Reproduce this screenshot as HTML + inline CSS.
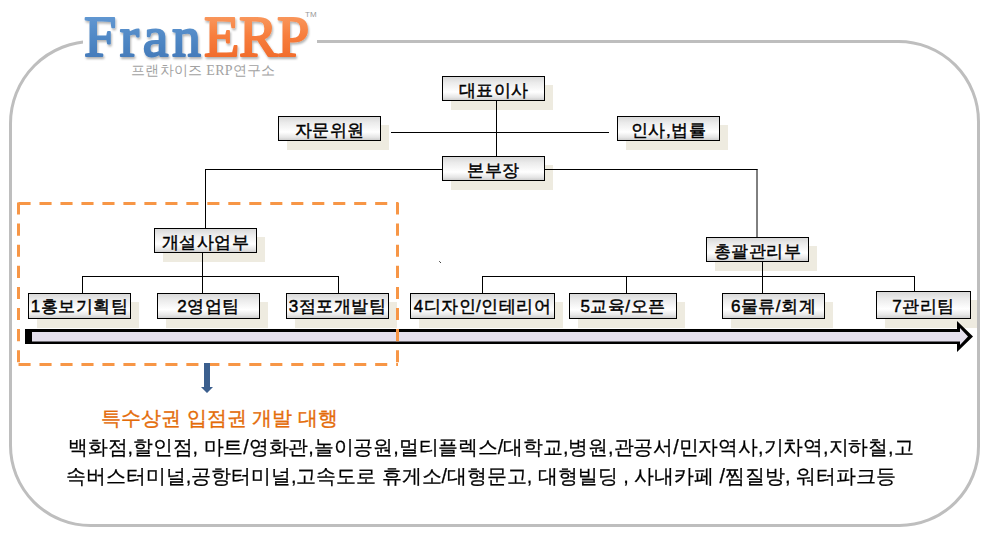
<!DOCTYPE html>
<html><head><meta charset="utf-8">
<style>
html,body{margin:0;padding:0;background:#fff;}
body{width:987px;height:542px;position:relative;overflow:hidden;font-family:"Liberation Sans",sans-serif;}
svg.bg{position:absolute;left:0;top:0;}
.sh{position:absolute;background:#EEEBE0;}
.tm{padding-top:1px !important;}
.bx{position:absolute;box-sizing:border-box;border:1px solid #000;
 background:linear-gradient(to bottom,#d9d9d9 0%,#ebebeb 25%,#ffffff 65%,#e6e6e6 88%,#cfcfcf 100%);
 font-weight:normal;-webkit-text-stroke:0.45px #000;font-size:17px;color:#000;display:flex;align-items:center;justify-content:center;white-space:nowrap;letter-spacing:0.5px;padding-top:3px;}
.logo{position:absolute;font-family:"Liberation Serif",serif;font-weight:normal;font-size:58px;line-height:1;letter-spacing:2px;white-space:nowrap;text-shadow:1px 2px 1.5px rgba(0,0,0,0.3);transform-origin:0 0;}
.sub{position:absolute;font-family:"Liberation Serif",serif;color:#a2a2a2;font-size:14px;white-space:nowrap;letter-spacing:0.3px;}
.t1{position:absolute;color:#E46C0A;font-size:20px;white-space:nowrap;-webkit-text-stroke:0.35px #E46C0A;}
.t2{position:absolute;color:#000;font-size:20px;white-space:nowrap;transform-origin:0 0;-webkit-text-stroke:0.25px #000;}
</style></head><body>

<!-- shadows -->
<div class="sh" style="left:451px;top:85px;width:102px;height:25px"></div>
<div class="sh" style="left:287px;top:125px;width:102px;height:25px"></div>
<div class="sh" style="left:626px;top:125px;width:102px;height:25px"></div>
<div class="sh" style="left:451px;top:165px;width:102px;height:25px"></div>
<div class="sh" style="left:163px;top:237px;width:102px;height:25px"></div>
<div class="sh" style="left:715px;top:246px;width:102px;height:25px"></div>
<div class="sh" style="left:37px;top:302px;width:102px;height:26px"></div>
<div class="sh" style="left:166px;top:302px;width:102px;height:26px"></div>
<div class="sh" style="left:295px;top:302px;width:102px;height:26px"></div>
<div class="sh" style="left:419px;top:302px;width:144px;height:26px"></div>
<div class="sh" style="left:578px;top:302px;width:107px;height:26px"></div>
<div class="sh" style="left:731px;top:302px;width:102px;height:26px"></div>
<div class="sh" style="left:885px;top:300px;width:94px;height:28px"></div>

<svg class="bg" width="987" height="542" viewBox="0 0 987 542">
 <g stroke="#000" stroke-width="1" fill="none">
  <path d="M496.5 101V156"/>
  <path d="M391 132.5H609"/>
  <path d="M205 169.5H757.5"/>
  <path d="M205.5 169V229"/>
  <path d="M757 169V238"/>
  <path d="M202.5 253V293"/>
  <path d="M82 276.5H339"/>
  <path d="M82.5 276V293"/>
  <path d="M338.5 276V293"/>
  <path d="M762.5 261V294"/>
  <path d="M482 276.5H915"/>
  <path d="M482.5 276V293"/>
  <path d="M626.5 276V293"/>
  <path d="M914.5 276V292"/>
 </g>
</svg>

<!-- boxes -->
<div class="bx" style="left:442px;top:76px;width:103px;height:25px">대표이사</div>
<div class="bx" style="left:278px;top:116px;width:103px;height:25px">자문위원</div>
<div class="bx" style="left:617px;top:116px;width:103px;height:25px">인사,법률</div>
<div class="bx" style="left:442px;top:156px;width:103px;height:25px">본부장</div>
<div class="bx" style="left:154px;top:228px;width:103px;height:25px">개설사업부</div>
<div class="bx" style="left:706px;top:237px;width:103px;height:25px">총괄관리부</div>
<div class="bx tm" style="left:28px;top:293px;width:103px;height:26px">1홍보기획팀</div>
<div class="bx tm" style="left:157px;top:293px;width:103px;height:26px">2영업팀</div>
<div class="bx tm" style="left:286px;top:293px;width:103px;height:26px">3점포개발팀</div>
<div class="bx tm" style="left:410px;top:293px;width:145px;height:26px">4디자인/인테리어</div>
<div class="bx tm" style="left:569px;top:293px;width:108px;height:26px">5교육/오픈</div>
<div class="bx tm" style="left:722px;top:293px;width:103px;height:26px">6물류/회계</div>
<div class="bx" style="left:876px;top:291px;width:95px;height:28px">7관리팀</div>

<svg class="bg" width="987" height="542" viewBox="0 0 987 542">
 <!-- big rounded frame -->
 <path d="M92.5 41.5H898.5A80 80 0 0 1 978.5 121.5V446.5A79 79 0 0 1 899.5 525.5H90.5A80 80 0 0 1 10.5 445.5V123.5A82 82 0 0 1 92.5 41.5Z" fill="none" stroke="#BEBEBE" stroke-width="3"/>
 <rect x="83" y="20" width="234" height="40" fill="#fff"/>
 <!-- big arrow -->
 <polygon points="25,329 957,329 957,321 973,336.5 957,352 957,344 25,344" fill="#000"/>
 <polygon points="32,332 960,332 960,328 968,336.5 960,345 960,341.5 32,341.5" fill="#E4DFEC"/>
 <!-- dashed rect -->
 <g stroke="#F79646" stroke-width="3" fill="none">
  <path d="M18.5 203.5H398M18.5 364.5H398" stroke-dasharray="12.1 8.88"/>
  <path d="M18.5 202.5V366M397.5 202.5V366" stroke-dasharray="12.1 9"/>
 </g>
 <!-- blue down arrow -->
 <polygon points="204,363 210,363 210,387 213,387 207,393 201,387 204,387" fill="#3B5F8E"/>
 <!-- stray tick -->
 <rect x="439" y="261" width="1" height="1" fill="#666"/><rect x="440" y="262" width="1" height="1" fill="#444"/>
</svg>

<svg class="bg" width="987" height="542" viewBox="0 0 987 542" style="overflow:visible">
 <defs>
  <linearGradient id="gb" x1="0" y1="0" x2="0" y2="1"><stop offset="0" stop-color="#6A9FD8"/><stop offset="0.5" stop-color="#5189C6"/><stop offset="1" stop-color="#3F75B5"/></linearGradient>
  <linearGradient id="go" x1="0" y1="0" x2="0" y2="1"><stop offset="0" stop-color="#FAA56E"/><stop offset="0.5" stop-color="#F77D3C"/><stop offset="1" stop-color="#EE6424"/></linearGradient>
  <filter id="ds" x="-10%" y="-10%" width="130%" height="140%"><feGaussianBlur in="SourceAlpha" stdDeviation="0.8"/><feOffset dx="1" dy="2" result="o"/><feFlood flood-color="#000" flood-opacity="0.3"/><feComposite in2="o" operator="in"/><feMerge><feMergeNode/><feMergeNode in="SourceGraphic"/></feMerge></filter>
 </defs>
 <g filter="url(#ds)" font-family="Liberation Serif" font-size="58" stroke-width="2" stroke-linejoin="round">
  <text x="84" y="56.6" fill="url(#gb)" stroke="url(#gb)" letter-spacing="3.6" transform="translate(0,0.13) scale(1,0.98)">Fran</text>
  <text x="204" y="56.6" fill="url(#go)" stroke="url(#go)" letter-spacing="-0.5" transform="translate(0,0.13) scale(1,0.98)">ERP</text>
 </g>
</svg>
<div style="position:absolute;left:305px;top:10px;font-size:8px;color:#999">TM</div>
<div class="sub" style="left:131px;top:62px;">프랜차이즈 ERP연구소</div>

<div class="t1" style="left:101px;top:405px;">특수상권 입점권 개발 대행</div>
<div class="t2" style="left:68px;top:434px;transform:scaleX(0.992)">백화점,할인점, 마트/영화관,놀이공원,멀티플렉스/대학교,병원,관공서/민자역사,기차역,지하철,고</div>
<div class="t2" style="left:66px;top:463px;transform:scaleX(0.997)">속버스터미널,공항터미널,고속도로 휴게소/대형문고, 대형빌딩 , 사내카페 /찜질방, 워터파크등</div>
</body></html>
